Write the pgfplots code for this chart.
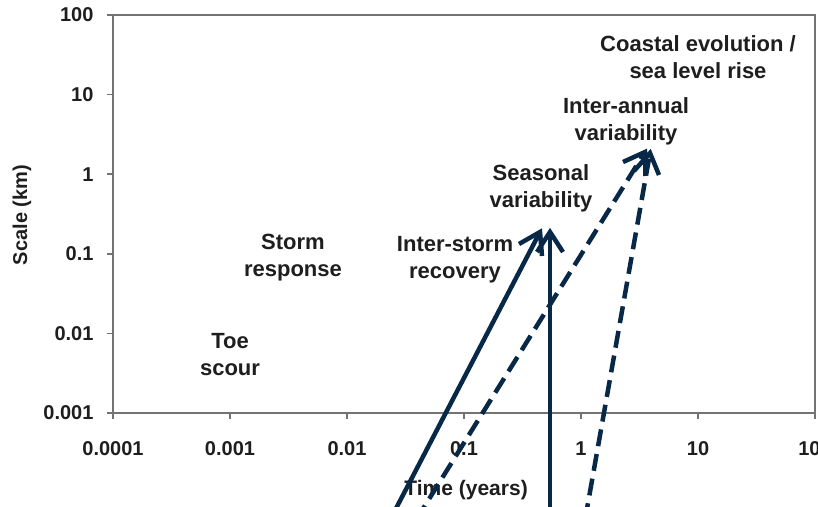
\documentclass[border=0pt]{standalone}
\usepackage{fontspec}
\setmainfont{Liberation Sans}
\usepackage{pgfplots}
\pgfplotsset{compat=1.18}
\definecolor{navy}{RGB}{8,40,72}
\definecolor{axgray}{RGB}{115,115,115}
\definecolor{txt}{RGB}{30,30,30}
\tikzset{
  lbl/.style={font=\bfseries\fontsize{22}{27}\selectfont, align=center, text=txt},
  shaft/.style={navy, line width=4.5pt, line cap=butt},
  head/.style={navy, line width=4.5pt, line cap=butt, line join=miter, solid},
}
\begin{document}
\begin{tikzpicture}
\begin{axis}[xmode=log, ymode=log, xmin=1e-4, xmax=100, ymin=1e-3, ymax=100,
  scale only axis, width=702pt, height=398pt, at={(113pt,93pt)}, anchor=south west,
  axis line style={axgray, line width=2.8pt},
  xtick={1e-4,1e-3,0.01,0.1,1,10,100},
  xticklabels={0.0001,0.001,0.01,0.1,1,10,100},
  ytick={1e-3,0.01,0.1,1,10,100},
  yticklabels={0.001,0.01,0.1,1,10,100},
  xminorticks=false, yminorticks=false,
  tick align=outside, tick pos=left,
  major tick length=6pt,
  tick style={axgray, line width=1.5pt},
  tick label style={font=\bfseries\fontsize{20}{24}\selectfont, text=txt},
  xticklabel style={yshift=-19pt},
  yticklabel style={xshift=-10pt},
  xlabel={Time (years)}, ylabel={Scale (km)},
  xlabel style={at={(axis description cs:0.503,-0.1935)}, anchor=center, font=\bfseries\fontsize{21}{25}\selectfont, text=txt},
  ylabel style={at={(axis description cs:-0.1296,0.4975)}, anchor=center, font=\bfseries\fontsize{20}{24}\selectfont, text=txt},
  clip=false,
]
\node[lbl] at (axis cs:0.001,0.00535) {Toe\\scour};
\node[lbl] at (axis cs:0.003455,0.0886) {Storm\\response};
\node[lbl] at (axis cs:0.0838,0.0836) {Inter-storm\\recovery};
\node[lbl] at (axis cs:0.455,0.671) {Seasonal\\variability};
\node[lbl] at (axis cs:2.424,4.66) {Inter-annual\\variability};
\node[lbl] at (axis cs:10,29.7) {Coastal evolution /\\sea level rise};
\end{axis}
\begin{axis}[xmode=log, ymode=log, xmin=1e-4, xmax=100, ymin=1e-3, ymax=100,
  scale only axis, width=702pt, height=398pt, at={(113pt,93pt)}, anchor=south west,
  hide axis, clip=false]
% shafts
\addplot[shaft] coordinates {(0.02331,4.527e-5) (0.4464,0.1879)};
\addplot[shaft] coordinates {(0.5433,4.527e-5) (0.5433,0.1879)};
\addplot[shaft, dash pattern=on 17pt off 8pt] coordinates {(0.03888,4.527e-5) (3.524,1.901)};
\addplot[shaft, dash pattern=on 17pt off 8pt] coordinates {(1.082,4.527e-5) (3.888,1.846)};
% heads (open chevrons)
\addplot[head] coordinates {(0.2952,0.1328) (0.4464,0.1879) (0.4642,0.09385)};
\addplot[head] coordinates {(0.4205,0.1053) (0.5433,0.1879) (0.7017,0.1053)};
\addplot[head] coordinates {(2.286,1.423) (3.524,1.901) (3.558,0.9493)};
\addplot[head] coordinates {(2.838,1.097) (3.888,1.846) (4.642,0.977)};
\end{axis}
\pgfresetboundingbox
\path[use as bounding box] (0,0) rectangle (818pt,506pt);
\end{tikzpicture}
\end{document}
